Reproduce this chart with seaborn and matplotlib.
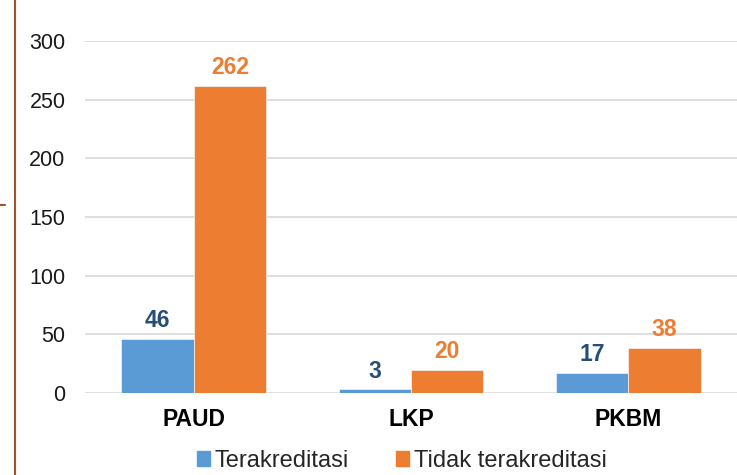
import matplotlib
matplotlib.use("Agg")
import matplotlib.pyplot as plt
import seaborn as sns
import pandas as pd
from matplotlib.lines import Line2D
from matplotlib.patches import Patch

# data
kategori = ["PAUD", "LKP", "PKBM"]
terakreditasi = [46, 3, 17]
tidak_terakreditasi = [262, 20, 38]
seri = ["Terakreditasi", "Tidak terakreditasi"]
warna = ["#5B9BD5", "#ED7D31"]
warna_label = ["#264F78", "#ED7D31"]

df = pd.DataFrame({
    "kategori": kategori * 2,
    "jumlah": terakreditasi + tidak_terakreditasi,
    "status": [seri[0]] * 3 + [seri[1]] * 3,
})

sns.set_theme(style="white")
plt.rcParams["font.family"] = ["Liberation Sans", "DejaVu Sans"]

fig = plt.figure(figsize=(7.37, 4.75), dpi=100)
ax = fig.add_axes([85 / 737, 1 - 393 / 475, 1 - 85 / 737, 352 / 475])

sns.barplot(data=df, x="kategori", y="jumlah", hue="status", palette=warna,
            width=0.665, saturation=1, ax=ax, legend=False, linewidth=0.5,
            edgecolor="#F5F5F5")

for cont, c in zip(ax.containers, warna_label):
    ax.bar_label(cont, padding=5, color=c, fontsize=16.5, fontweight="bold")

ax.set_ylim(0, 300)
ax.set_xlim(-0.5, 2.5)
ax.set_yticks(range(0, 301, 50))
ax.yaxis.grid(True, color="#D9D9D9", linewidth=1.2)
ax.set_axisbelow(True)
for s in ax.spines.values():
    s.set_visible(False)
ax.tick_params(axis="y", length=0, pad=14, labelsize=15.5, labelcolor="#1A1A1A")
ax.tick_params(axis="x", length=0, pad=11, labelsize=16.5, labelcolor="#000000")
for t in ax.get_xticklabels():
    t.set_fontweight("bold")
ax.set_xlabel("")
ax.set_ylabel("")

# brown line on the left edge
fig.add_artist(Line2D([15 / 737, 15 / 737], [0, 1], color="#A0522D", lw=1.5))
fig.add_artist(Line2D([0, 5 / 737], [1 - 205 / 475, 1 - 205 / 475], color="#A0522D", lw=1.5))

handles = [Patch(color=w) for w in warna]
fig.legend(handles, seri, loc="center", bbox_to_anchor=(0.545, 0.03), ncol=2,
           frameon=False, fontsize=17, handlelength=0.55, handleheight=0.55,
           handletextpad=0.2, columnspacing=2.0, borderpad=0.1)

plt.savefig("out.png", dpi=100)
